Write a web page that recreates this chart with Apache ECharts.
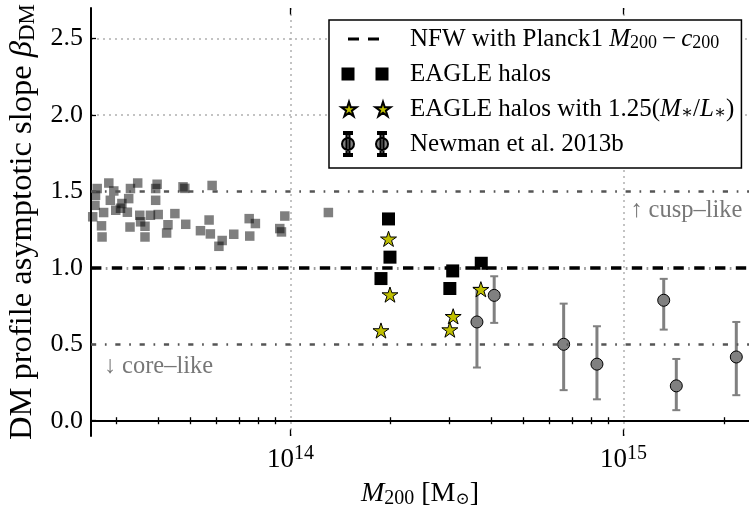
<!DOCTYPE html>
<html><head><meta charset="utf-8">
<script src="https://cdn.jsdelivr.net/npm/echarts@6/dist/echarts.min.js"></script>
<style>html,body{margin:0;padding:0;background:#fff}#c{width:749px;height:509px}</style>
</head><body><div id="c"></div>
<script>
// ---------------- data ----------------
const grayM = [2.60e13,2.63e13,2.85e13,2.95e13,3.31e13,3.48e13,3.98e13,3.94e13,4.76e13,5.82e13,
  2.88e13,3.12e13,3.27e13,3.94e13,2.59e13,2.75e13,2.99e13,3.24e13,3.53e13,3.80e13,
  4.01e13,4.50e13,2.55e13,2.71e13,3.30e13,3.55e13,3.66e13,4.29e13,4.85e13,2.72e13,
  3.66e13,4.25e13,5.37e13,5.70e13,5.75e13,6.24e13,6.10e13,6.76e13,7.52e13,7.85e13,
  7.55e13,9.62e13,9.29e13,9.40e13,1.30e14,3.09e13,4.82e13];
const grayBeta = [1.475,1.519,1.555,1.503,1.519,1.555,1.547,1.519,1.530,1.539,
  1.442,1.421,1.453,1.442,1.409,1.362,1.377,1.364,1.344,1.344,
  1.349,1.355,1.334,1.275,1.267,1.301,1.272,1.282,1.285,1.202,
  1.202,1.228,1.243,1.313,1.222,1.179,1.141,1.220,1.322,1.290,
  1.208,1.339,1.257,1.235,1.362,1.390,1.520];
const eagleM = [1.97e14,1.99e14,1.87e14,3.07e14,3.01e14,3.74e14];
const eagleBeta = [1.32,1.07,0.93,0.98,0.865,1.03];
const eagle125M = [1.97e14,1.99e14,1.87e14,3.08e14,3.01e14,3.73e14];
const eagle125Beta = [1.19,0.825,0.59,0.683,0.596,0.86];
const newmanM = [3.63e14,4.09e14,6.61e14,8.32e14,1.32e15,1.44e15,2.18e15];
const newmanBeta = [0.646,0.82,0.50,0.37,0.788,0.228,0.417];
const newmanLo = [0.348,0.64,0.20,0.14,0.596,0.069,0.167];
const newmanHi = [0.87,0.945,0.766,0.618,0.928,0.404,0.646];
const nfwLevel = [1.0];
const regimeLevels = [1.5, 0.5];
const annotM = [2.75e13, 1.047e15];
const annotBeta = [0.355, 1.377];
const annotText = ['\u2193 core\u2013like', '\u2191 cusp\u2013like'];
const yTicks = [0, 0.5, 1.0, 1.5, 2.0, 2.5];
const yGridTicks = [0, 2.0, 2.5];
const xMajorTicks = [1e14, 1e15];
const xMinorTicks = [3e13,4e13,5e13,6e13,7e13,8e13,9e13,2e14,3e14,4e14,5e14,6e14,7e14,8e14,9e14,2e15];
const xRange = [2.52e13, 2.38e15];
const yRange = [-0.1, 2.7];
const legendNames = ['NFW', 'EAGLE', 'EAGLE125', 'Newman'];
const legendLabels = {
  NFW: 'NFW with Planck1 {i|M}{sub|200}{t|\u2009\u2212\u2009}{i|c}{sub|200}',
  EAGLE: 'EAGLE halos',
  EAGLE125: 'EAGLE halos with 1.25({i|M}{sub|\u2217}/{i|L}{sub|\u2217})',
  Newman: 'Newman et al. 2013b'
};

// ---------------- helpers ----------------
const L = Math.log10;
const SERIF = "'Liberation Serif','DejaVu Serif',serif";
function starPts(cx, cy, R) {
  const r = R * 0.382; let s = '';
  for (let k = 0; k < 10; k++) {
    const a = (-90 + k * 36) * Math.PI / 180, rr = k % 2 ? r : R;
    s += (k ? 'L' : 'M') + (cx + rr * Math.cos(a)).toFixed(3) + ',' + (cy + rr * Math.sin(a)).toFixed(3);
  }
  return s + 'Z';
}
const STAR = 'path://' + starPts(100, 100, 100);
const A = 'M0,0M64,24';
const iconNFW = 'path://' + A + 'M7,10.5h11v3h-11zM27,10.5h11v3h-11z';
const iconSq = 'path://' + A + 'M0.5,5.5h13v13h-13zM34.5,5.5h13v13h-13z';
const iconStar = 'path://' + A + starPts(8, 12.8, 8) + starPts(42, 12.8, 8);
function circ(cx, cy, r) { return 'M' + (cx - r) + ',' + cy + 'a' + r + ',' + r + ' 0 1,1 ' + (2 * r) + ',0a' + r + ',' + r + ' 0 1,1 ' + (-2 * r) + ',0z'; }
function ebar(cx) { return 'M' + (cx - 1.5) + ',0h3v24h-3z' + 'M' + (cx - 4) + ',0h8v2h-8z' + 'M' + (cx - 4) + ',22h8v2h-8z'; }
const iconNew = 'path://' + A + ebar(7) + ebar(41) + circ(7, 12, 6) + circ(41, 12, 6);

const gridDash = {color: '#b0b0b0', width: 1.5, type: [2, 4]};
const xMin = L(xRange[0]), xMax = L(xRange[1]);

const chart = echarts.init(document.getElementById('c'), null, {renderer: 'canvas'});
chart.setOption({
  animation: false,
  backgroundColor: '#fff',
  textStyle: {fontFamily: SERIF},
  grid: {left: 91, right: 0, top: 8, bottom: 73, containLabel: false, outerBoundsMode: 'none'},
  xAxis: [
    {
      type: 'value', position: 'bottom', min: xMin, max: xMax,
      axisLine: {show: true, lineStyle: {color: '#000', width: 2}},
      axisTick: {show: true, inside: true, length: 3.5, lineStyle: {color: '#000', width: 1.3}, customValues: xMinorTicks.map(L)},
      axisLabel: {show: true, customValues: xMajorTicks.map(L), margin: 8, color: '#000',
        formatter: v => '{b|10}{s|' + Math.round(v) + '}',
        rich: {b: {fontSize: 27, fontFamily: SERIF, lineHeight: 32, color: '#000'},
               s: {fontSize: 20, fontFamily: SERIF, lineHeight: 18, verticalAlign: 'top', color: '#000'}}},
      splitLine: {show: false},
      name: '{i|M}{sub|200} [M{sub2|\u2299}]', nameLocation: 'middle', nameGap: 41,
      nameTextStyle: {fontSize: 28, fontFamily: SERIF, color: '#000', lineHeight: 30,
        rich: {i: {fontStyle: 'italic', fontSize: 28, fontFamily: SERIF, lineHeight: 30},
               sub: {fontSize: 20, fontFamily: SERIF, lineHeight: 14, verticalAlign: 'bottom'},
               sub2: {fontSize: 17, fontFamily: "'DejaVu Serif',serif", lineHeight: 14, verticalAlign: 'bottom'}}}
    },
    {
      type: 'value', position: 'top', min: xMin, max: xMax,
      axisLine: {show: true, lineStyle: {color: '#000', width: 2}},
      axisTick: {show: true, inside: true, length: 3.5, lineStyle: {color: '#000', width: 1.3}, customValues: xMinorTicks.map(L)},
      axisLabel: {show: false}, splitLine: {show: false}
    },
    {
      type: 'value', position: 'bottom', min: xMin, max: xMax,
      axisLine: {show: false},
      axisTick: {show: true, inside: true, length: 6.5, lineStyle: {color: '#000', width: 1.3}, customValues: xMajorTicks.map(L)},
      axisLabel: {show: false},
      splitLine: {show: true, lineStyle: gridDash}
    },
    {
      type: 'value', position: 'top', min: xMin, max: xMax,
      axisLine: {show: false},
      axisTick: {show: true, inside: true, length: 6.5, lineStyle: {color: '#000', width: 1.3}, customValues: xMajorTicks.map(L)},
      axisLabel: {show: false}, splitLine: {show: false}
    }
  ],
  yAxis: [
    {
      type: 'value', position: 'left', min: yRange[0], max: yRange[1],
      axisLine: {show: true, lineStyle: {color: '#000', width: 2}},
      axisTick: {show: true, inside: true, length: 5, lineStyle: {color: '#000', width: 1.3}, customValues: yTicks},
      axisLabel: {show: true, customValues: yTicks, margin: 8, color: '#000', fontSize: 26, fontFamily: SERIF,
        formatter: v => v.toFixed(1)},
      splitLine: {show: false},
      name: 'DM profile asymptotic slope {i|\u03b2}{sub|DM}', nameLocation: 'middle', nameRotate: 90, nameGap: 50,
      nameTextStyle: {fontSize: 32.5, fontFamily: SERIF, color: '#000', lineHeight: 34,
        rich: {i: {fontStyle: 'italic', fontSize: 32.5, fontFamily: SERIF, lineHeight: 34},
               sub: {fontSize: 23, fontFamily: SERIF, lineHeight: 18, verticalAlign: 'bottom'}}}
    },
    {
      type: 'value', position: 'left', min: yRange[0], max: yRange[1],
      axisLine: {show: false}, axisLabel: {show: false},
      axisTick: {show: false, customValues: yGridTicks},
      splitLine: {show: true, lineStyle: gridDash}
    }
  ],
  legend: {
    left: 329, top: 20, orient: 'vertical', align: 'left',
    itemWidth: 64, itemHeight: 24, itemGap: 9,
    padding: [6, 7, 11, 11],
    borderColor: '#000', borderWidth: 1.5, backgroundColor: '#fff', borderRadius: 0,
    selectedMode: false,
    textStyle: {fontFamily: SERIF, fontSize: 25, color: '#000', lineHeight: 26,
      rich: {i: {fontStyle: 'italic', fontSize: 25, fontFamily: SERIF, lineHeight: 26},
             t: {fontSize: 25, fontFamily: SERIF, lineHeight: 26},
             sub: {fontSize: 18, fontFamily: SERIF, lineHeight: 12, verticalAlign: 'bottom'}}},
    formatter: n => legendLabels[n],
    data: [
      {name: legendNames[0], icon: iconNFW},
      {name: legendNames[1], icon: iconSq},
      {name: legendNames[2], icon: iconStar},
      {name: legendNames[3], icon: iconNew}
    ]
  },
  series: [
    {
      type: 'line', data: [], silent: true,
      markLine: {silent: true, symbol: 'none', label: {show: false}, animation: false,
        lineStyle: {color: '#555', width: 2.5, type: [5.2, 8.7, 1.7, 8.7]},
        data: regimeLevels.map(v => ({yAxis: v}))}
    },
    {
      type: 'line', data: [], silent: true,
      markLine: {silent: true, symbol: 'none', label: {show: false}, animation: false,
        lineStyle: {color: '#9a9a9a', width: 3, type: [1.7, 19.1], dashOffset: 6.05},
        data: nfwLevel.map(v => ({yAxis: v}))}
    },
    {
      name: 'NFW', type: 'line', data: [], itemStyle: {color: '#000'}, lineStyle: {color: '#000'},
      markLine: {silent: true, symbol: 'none', label: {show: false}, animation: false,
        lineStyle: {color: '#000', width: 3.5, type: [10.4, 10.4]},
        data: nfwLevel.map(v => ({yAxis: v}))}
    },
    {
      name: 'grayhalos', type: 'scatter', symbol: 'rect', symbolSize: 9.5,
      itemStyle: {color: '#000', opacity: 0.5},
      data: grayM.map((m, i) => [L(m), grayBeta[i]])
    },
    {
      name: 'EAGLE', type: 'scatter', symbol: 'rect', symbolSize: 13,
      itemStyle: {color: '#000', opacity: 1},
      data: eagleM.map((m, i) => [L(m), eagleBeta[i]])
    },
    {
      name: 'EAGLE125', type: 'scatter', symbol: STAR, symbolSize: 16, symbolKeepAspect: true,
      itemStyle: {color: '#bfbf00', borderColor: '#000', borderWidth: 1, opacity: 1},
      data: eagle125M.map((m, i) => [L(m), eagle125Beta[i]])
    },
    {
      name: 'newmanErr', type: 'custom', silent: true,
      renderItem: (params, api) => {
        const x = api.value(0);
        const pLo = api.coord([x, api.value(1)]), pHi = api.coord([x, api.value(2)]);
        const c = 4, st = {stroke: '#808080', lineWidth: 3};
        return {type: 'group', children: [
          {type: 'line', shape: {x1: pLo[0], y1: pLo[1], x2: pHi[0], y2: pHi[1]}, style: st},
          {type: 'line', shape: {x1: pLo[0] - c, y1: pLo[1], x2: pLo[0] + c, y2: pLo[1]}, style: {stroke: '#808080', lineWidth: 2}},
          {type: 'line', shape: {x1: pHi[0] - c, y1: pHi[1], x2: pHi[0] + c, y2: pHi[1]}, style: {stroke: '#808080', lineWidth: 2}}
        ]};
      },
      encode: {x: 0, y: [1, 2]},
      data: newmanM.map((m, i) => [L(m), newmanLo[i], newmanHi[i]])
    },
    {
      name: 'Newman', type: 'scatter', symbol: 'circle', symbolSize: 12,
      itemStyle: {color: '#808080', borderColor: '#000', borderWidth: 1, opacity: 1},
      data: newmanM.map((m, i) => [L(m), newmanBeta[i]])
    },
    {
      name: 'annot', type: 'scatter', symbolSize: 0, silent: true,
      label: {show: true, position: 'right', distance: 0, color: '#555', fontSize: 24.5, fontFamily: SERIF,
        formatter: p => annotText[p.dataIndex]},
      data: annotM.map((m, i) => [L(m), annotBeta[i]])
    }
  ]
});
</script></body></html>
